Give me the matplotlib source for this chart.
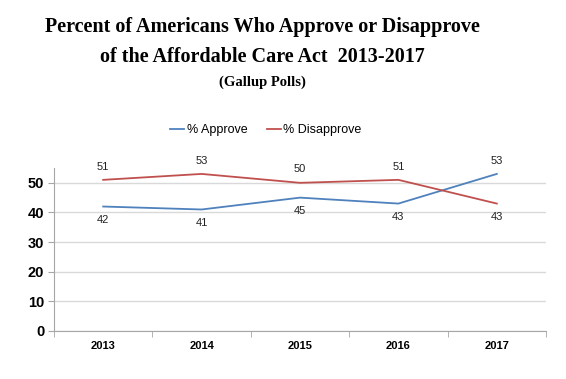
import numpy as np
import matplotlib
matplotlib.use("Agg")
import matplotlib.pyplot as plt

years = ["2013", "2014", "2015", "2016", "2017"]
approve = [42, 41, 45, 43, 53]
disapprove = [51, 53, 50, 51, 43]
yticks = [0, 10, 20, 30, 40, 50]

blue = "#4F81BD"
red = "#C0504D"
grid_color = "#D9D9D9"
axis_color = "#A6A6A6"

fig = plt.figure(figsize=(5.66, 3.79), dpi=100)
ax = fig.add_axes([54 / 566, 48 / 379, 492 / 566, 163 / 379])

x = np.arange(len(years))
ax.plot(x, approve, color=blue, lw=1.3, label="% Approve")
ax.plot(x, disapprove, color=red, lw=1.3, label="% Disapprove")

# data labels: the higher series gets its label above the point
for series, other in [(approve, disapprove), (disapprove, approve)]:
    for i, v in enumerate(series):
        above = series[i] > other[i]
        ax.annotate(str(v), (x[i], v), xytext=(0, 6 if above else -6),
                    textcoords="offset points", ha="center",
                    va="bottom" if above else "top", fontsize=8,
                    family="Liberation Sans", color="#222222")

ax.set_xlim(-0.5, len(years) - 0.5)
ax.set_ylim(0, 55)
ax.set_yticks(yticks)
ax.set_xticks(x)
ax.set_xticklabels(years)
ax.set_xticks(np.arange(-0.5, len(years)), minor=True)

ax.yaxis.grid(True, color=grid_color, lw=1)
ax.set_axisbelow(True)
for s in ["top", "right"]:
    ax.spines[s].set_visible(False)
ax.spines["left"].set_color(axis_color)
ax.spines["bottom"].set_color(axis_color)

ax.tick_params(axis="x", which="major", length=0, pad=7)
ax.tick_params(axis="x", which="minor", length=4, color=axis_color)
ax.tick_params(axis="y", length=4, color=axis_color, pad=3)
for lab in ax.get_xticklabels():
    lab.set_fontweight("bold")
    lab.set_fontsize(8)
    lab.set_family("Liberation Sans")
for lab in ax.get_yticklabels():
    lab.set_fontweight("bold")
    lab.set_fontsize(10.5)
    lab.set_family("Liberation Sans")

fig.legend(loc="center", bbox_to_anchor=(266 / 566, 1 - 130 / 379),
           ncol=2, frameon=False, handlelength=1.1, handletextpad=0.2,
           columnspacing=1.6, prop={"family": "Liberation Sans", "size": 9})

fig.text(262 / 566, 1 - 27 / 379, "Percent of Americans Who Approve or Disapprove",
         ha="center", va="center", fontsize=14.5, fontweight="bold",
         family="Liberation Serif")
fig.text(262 / 566, 1 - 57 / 379, "of the Affordable Care Act  2013-2017",
         ha="center", va="center", fontsize=14.5, fontweight="bold",
         family="Liberation Serif")
fig.text(262 / 566, 1 - 82 / 379, "(Gallup Polls)",
         ha="center", va="center", fontsize=10.5, fontweight="bold",
         family="Liberation Serif")

fig.savefig("out.png", dpi=100)
